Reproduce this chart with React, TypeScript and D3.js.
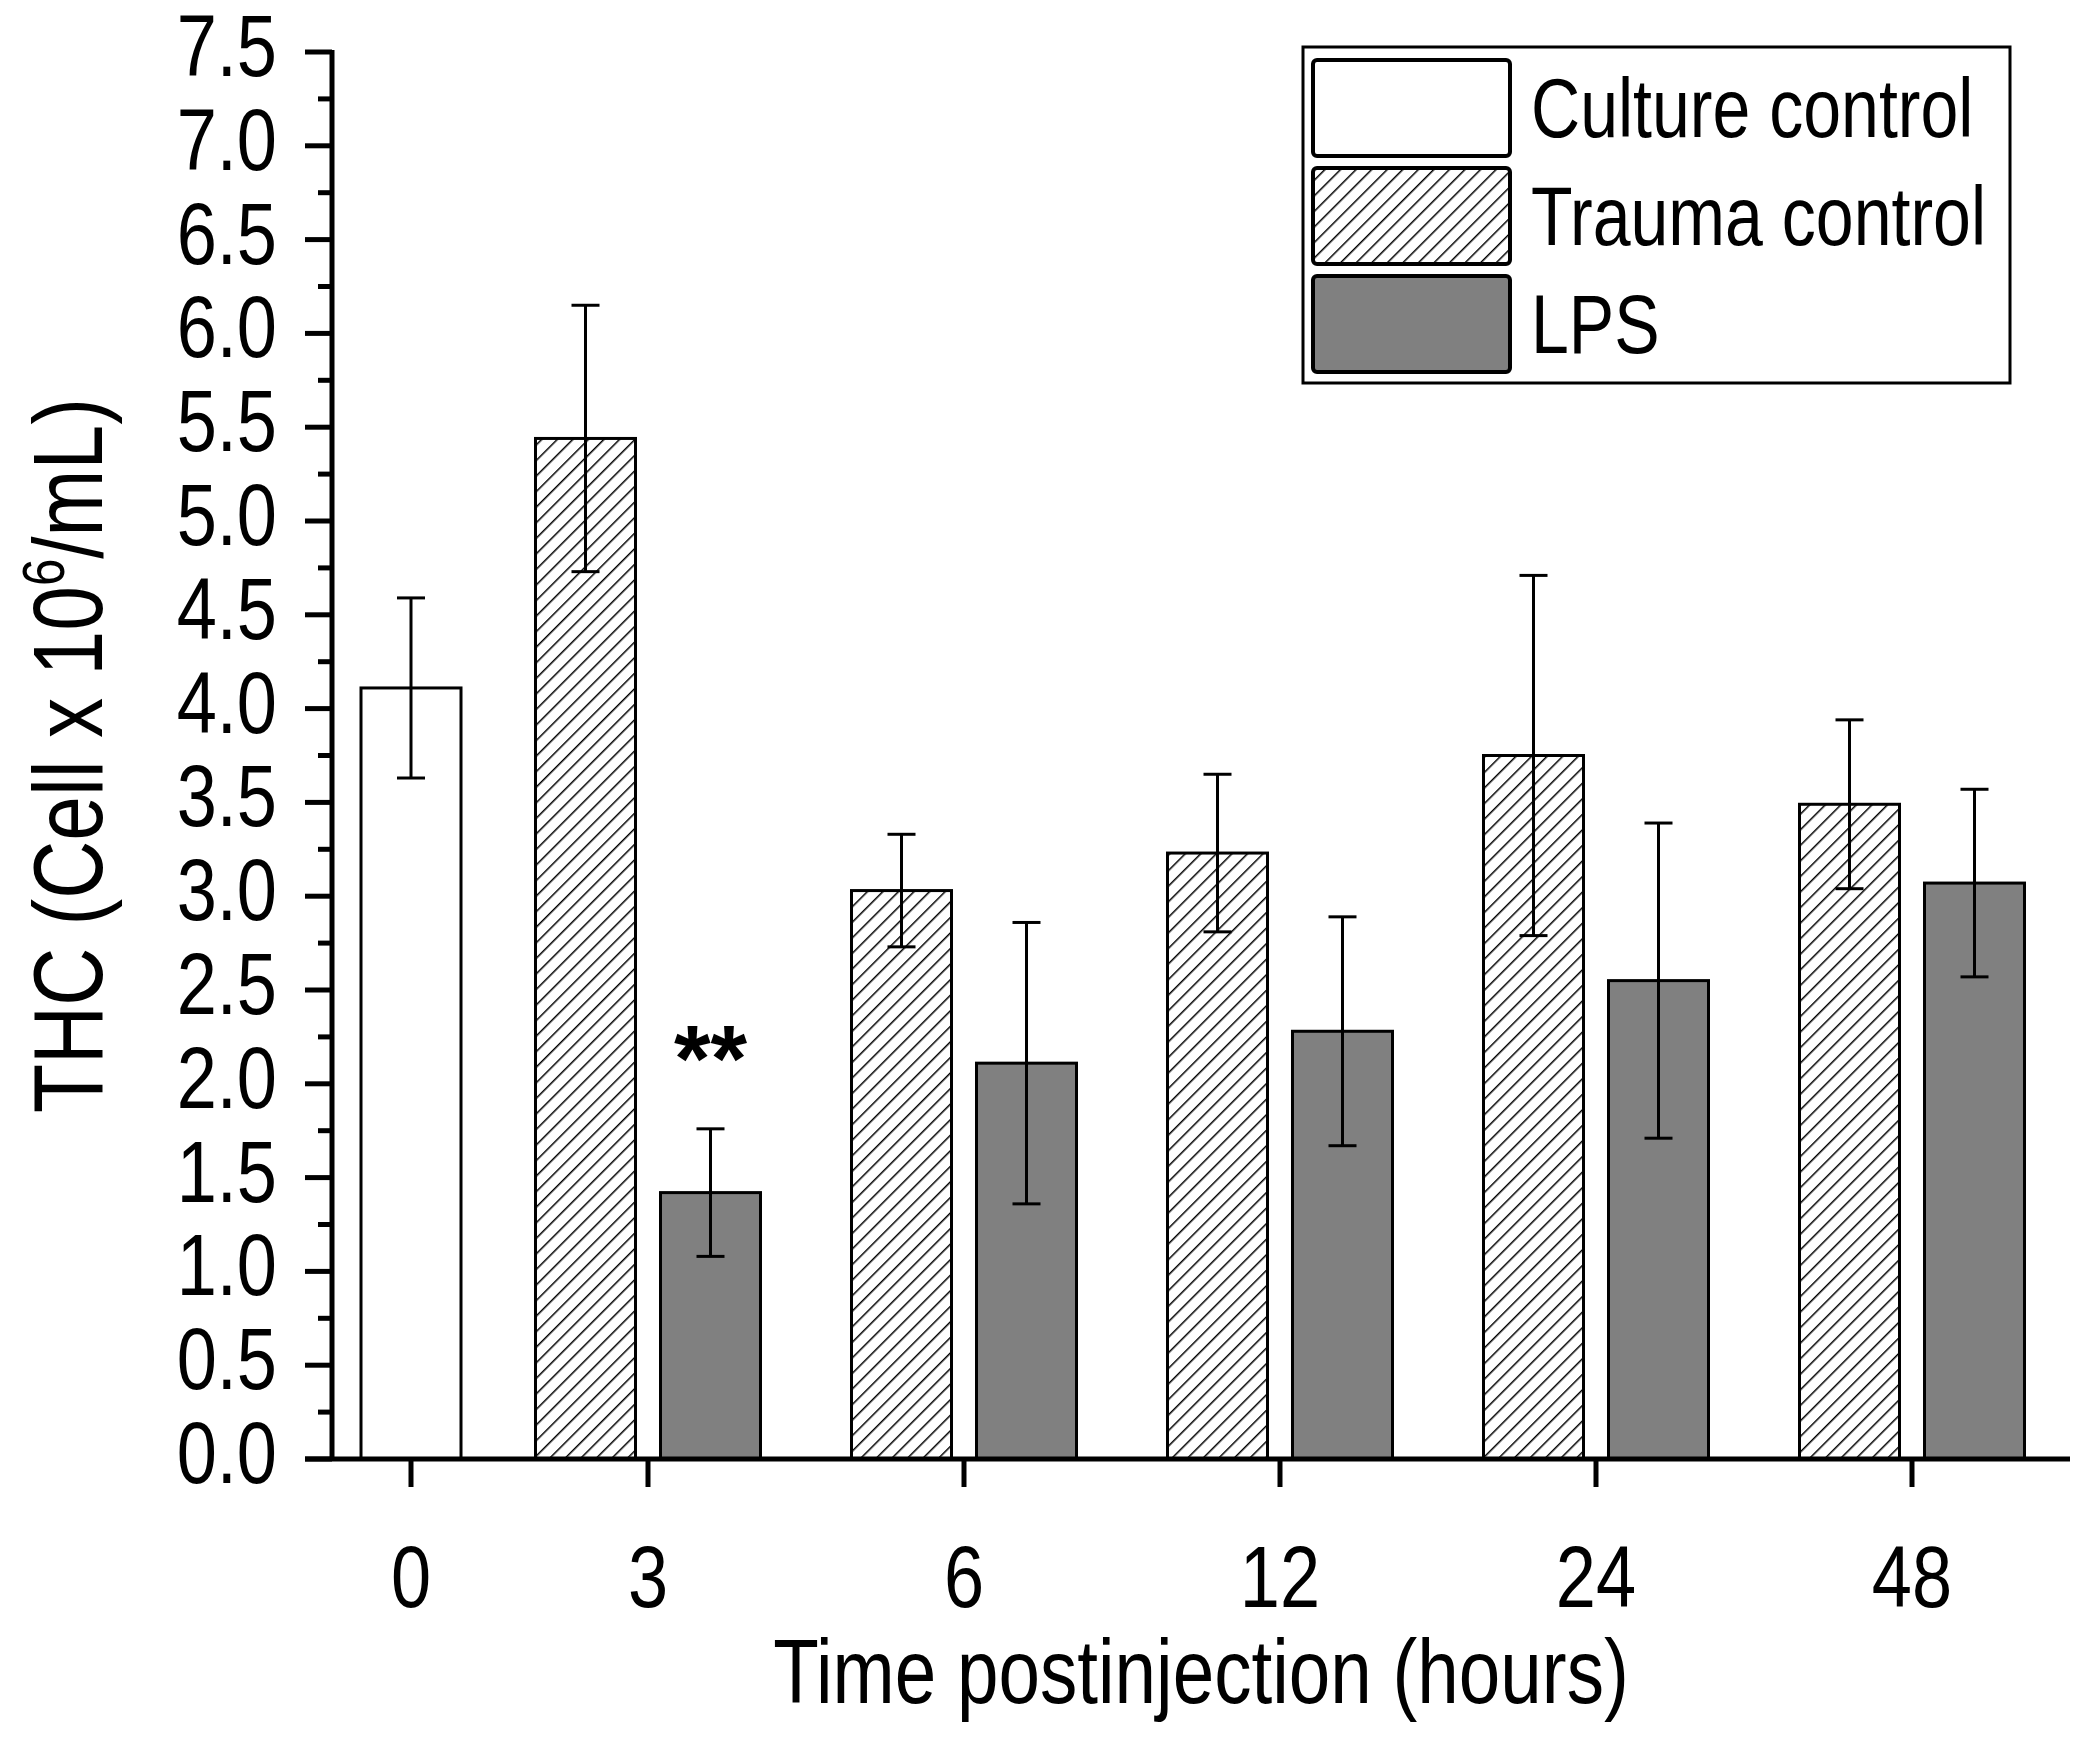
import React from 'react';
import * as d3 from 'd3';

const categories = ['0', '3', '6', '12', '24', '48'];

const cultureMean = [4.11, null, null, null, null, null];
const cultureSd = [0.48, null, null, null, null, null];
const traumaMean = [null, 5.44, 3.03, 3.23, 3.75, 3.49];
const traumaSd = [null, 0.71, 0.30, 0.42, 0.96, 0.45];
const lpsMean = [null, 1.42, 2.11, 2.28, 2.55, 3.07];
const lpsSd = [null, 0.34, 0.75, 0.61, 0.84, 0.50];

const seriesNames = ['Culture control', 'Trauma control', 'LPS'];
const significance = [{ category: '3', series: 'LPS', label: '**' }];

const W = 2088;
const H = 1738;
const FONT = '"Liberation Sans", Arial, Helvetica, sans-serif';
const SQUEEZE = 0.82; // the original type is narrow

type Series = { name: string; mean: (number | null)[]; sd: (number | null)[]; fill: string };

const series: Series[] = [
  { name: seriesNames[0], mean: cultureMean, sd: cultureSd, fill: '#ffffff' },
  { name: seriesNames[1], mean: traumaMean, sd: traumaSd, fill: 'url(#hatch)' },
  { name: seriesNames[2], mean: lpsMean, sd: lpsSd, fill: '#808080' },
];

function App(): React.ReactElement {
  const x = d3.scaleLinear().domain([0, 5.5]).range([332, 2070]);
  const y = d3.scaleLinear().domain([0, 7.5]).range([1459, 52]);

  // the first group only holds one bar, so it sits closer to the axis
  const groupPos = (i: number) => (i === 0 ? 0.25 : i);
  const barW = 100;
  const pitch = 125;
  const capW = 28;

  const bars: { key: string; cx: number; mean: number; sd: number; fill: string; cat: string; name: string }[] = [];
  categories.forEach((cat, i) => {
    const present = series.filter((s) => s.mean[i] != null);
    present.forEach((s, k) => {
      const cx = x(groupPos(i)) + (k - (present.length - 1) / 2) * pitch;
      bars.push({ key: `${cat}-${s.name}`, cx, mean: s.mean[i] as number, sd: (s.sd[i] ?? 0) as number, fill: s.fill, cat, name: s.name });
    });
  });

  const majors = d3.range(0, 7.5001, 0.5);
  const minors = d3.range(0.25, 7.5, 0.5);
  const fmt = d3.format('.1f');

  return (
    <svg width={W} height={H} style={{ position: 'absolute', left: 0, top: 0, background: '#fff' }} fontFamily={FONT}>
      <defs>
        <pattern id="hatch" width={11} height={11} patternUnits="userSpaceOnUse" patternTransform="rotate(45)">
          <rect width={11} height={11} fill="#fff" />
          <line x1={0} y1={0} x2={0} y2={11} stroke="#000" strokeWidth={3} />
        </pattern>
      </defs>
      <rect width={W} height={H} fill="#fff" />

      {/* bars */}
      {bars.map((b) => (
        <rect key={b.key} x={b.cx - barW / 2} y={y(b.mean)} width={barW} height={y(0) - y(b.mean)}
          fill={b.fill} stroke="#000" strokeWidth={3} />
      ))}

      {/* error bars */}
      {bars.map((b) => (
        <g key={`e-${b.key}`} stroke="#000" strokeWidth={3}>
          <line x1={b.cx} x2={b.cx} y1={y(b.mean + b.sd)} y2={y(b.mean - b.sd)} />
          <line x1={b.cx - capW / 2} x2={b.cx + capW / 2} y1={y(b.mean + b.sd)} y2={y(b.mean + b.sd)} />
          <line x1={b.cx - capW / 2} x2={b.cx + capW / 2} y1={y(b.mean - b.sd)} y2={y(b.mean - b.sd)} />
        </g>
      ))}

      {/* significance marks */}
      {significance.map((s) => {
        const b = bars.find((d) => d.cat === s.category && d.name === s.series);
        if (!b) return null;
        return (
          <text key={`sig-${s.category}`} x={b.cx} y={y(b.mean + b.sd) - 38} textAnchor="middle"
            fontSize={94} fontWeight="bold">{s.label}</text>
        );
      })}

      {/* y axis */}
      <line x1={x(0)} x2={x(0)} y1={y(7.5) - 2} y2={y(0) + 2} stroke="#000" strokeWidth={5} />
      {majors.map((v) => (
        <line key={`M${v}`} x1={x(0) - 27} x2={x(0)} y1={y(v)} y2={y(v)} stroke="#000" strokeWidth={5} />
      ))}
      {minors.map((v) => (
        <line key={`m${v}`} x1={x(0) - 14} x2={x(0)} y1={y(v)} y2={y(v)} stroke="#000" strokeWidth={5} />
      ))}
      {majors.map((v) => (
        <text key={`t${v}`} transform={`translate(277,${y(v) + 24}) scale(${SQUEEZE},1)`} textAnchor="end" fontSize={88}>
          {fmt(v)}
        </text>
      ))}

      {/* x axis */}
      <line x1={x(0) - 27} x2={x(5.5)} y1={y(0)} y2={y(0)} stroke="#000" strokeWidth={5} />
      {categories.map((c, i) => (
        <g key={`x${c}`}>
          <line x1={x(groupPos(i))} x2={x(groupPos(i))} y1={y(0)} y2={y(0) + 28} stroke="#000" strokeWidth={5} />
          <text transform={`translate(${x(groupPos(i))},1607) scale(${SQUEEZE},1)`} textAnchor="middle" fontSize={88}>{c}</text>
        </g>
      ))}

      {/* axis titles */}
      <text transform={`translate(${(x(0) + x(5.5)) / 2},1703) scale(${SQUEEZE},1)`} textAnchor="middle" fontSize={91}>
        Time postinjection (hours)
      </text>
      <text transform={`translate(102,${(y(0) + y(7.5)) / 2}) rotate(-90) scale(${SQUEEZE},1)`} textAnchor="middle" fontSize={98}>
        THC (Cell x 10<tspan fontSize={60} dy={-38}>6</tspan><tspan dy={38}>/mL)</tspan>
      </text>

      {/* legend */}
      <rect x={1303} y={47} width={707} height={336} fill="#fff" stroke="#000" strokeWidth={3} />
      {series.map((s, i) => (
        <g key={`lg-${s.name}`}>
          <rect x={1313} y={60 + i * 108} width={197} height={96} rx={4} fill={s.fill} stroke="#000" strokeWidth={4} />
          <text transform={`translate(1531,${137 + i * 108}) scale(${SQUEEZE},1)`} fontSize={83}>{s.name}</text>
        </g>
      ))}
    </svg>
  );
}

export default App;
